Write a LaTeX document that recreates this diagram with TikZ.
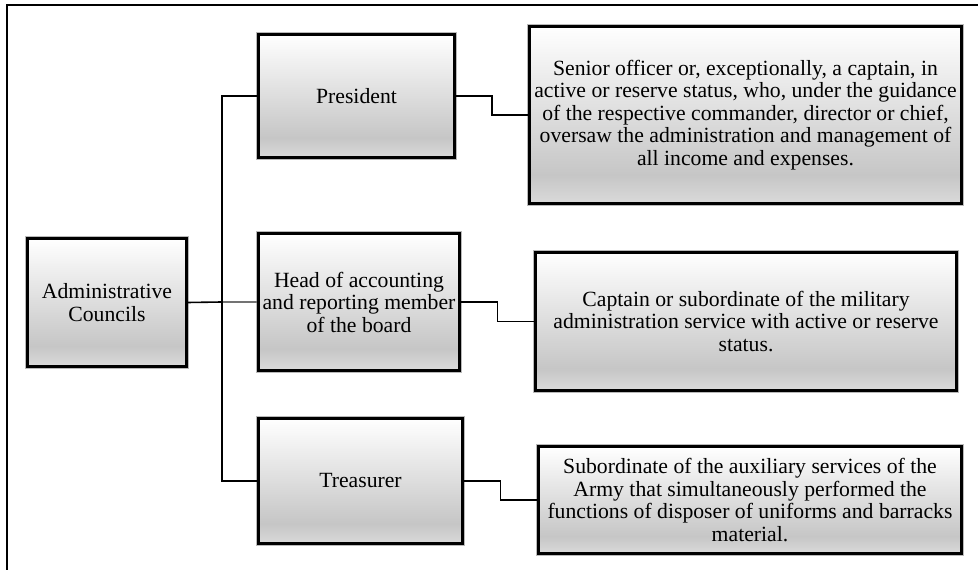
\documentclass[tikz,border=0pt]{standalone}
\usepackage{fontspec}
\setmainfont{Liberation Serif}
\usetikzlibrary{calc}

\definecolor{panelbottom}{HTML}{DADADA}
\definecolor{paneldark}{HTML}{C6C6C6}
\pgfdeclareverticalshading{panelfill}{100bp}{%
  color(0bp)=(panelbottom); color(25bp)=(panelbottom);
  color(33bp)=(paneldark); color(75bp)=(white); color(100bp)=(white)}

\begin{document}
\begin{tikzpicture}[x=1pt,y=1pt,
  panel/.style={rectangle, draw=black, line width=2.8pt,
    preaction={draw=gray!55, line width=4.2pt},
    shading=panelfill, align=center, inner sep=0pt,
    font=\fontsize{21.7}{22.5}\selectfont},
  link/.style={draw=black, line width=1.6pt},
  faint/.style={draw=black!55, line width=1.2pt}]

\useasboundingbox (0,0) rectangle (978,570);

% frame along the top and left edges
\draw[line width=2.6pt] (978,565) -- (7,565) -- (7,0);

% boxes
\node[panel, minimum width=159pt, minimum height=128pt] (admin) at (107,267.5)
  {Administrative\\Councils};
\node[panel, minimum width=196pt, minimum height=123pt] (pres) at (356.5,474)
  {President};
\node[panel, minimum width=201pt, minimum height=137pt] (head) at (359,268)
  {Head of accounting\\and reporting member\\of the board};
\node[panel, minimum width=204pt, minimum height=125pt] (treas) at (360.5,89)
  {Treasurer};
\node[panel, minimum width=432pt, minimum height=177pt] (senior) at (745.5,455)
  {Senior officer or, exceptionally, a captain, in\\
   active or reserve status, who, under the guidance\\
   of the respective commander, director or chief,\\
   oversaw the administration and management of\\
   all income and expenses.};
\node[panel, minimum width=421pt, minimum height=138pt] (capt) at (746,248.5)
  {Captain or subordinate of the military\\
   administration service with active or reserve\\
   status.};
\node[panel, minimum width=423pt, minimum height=107pt] (sub) at (750,70)
  {Subordinate of the auxiliary services of the\\
   Army that simultaneously performed the\\
   functions of disposer of uniforms and barracks\\
   material.};

% branching connectors
\coordinate (bus) at (222,268);
\draw[link] (admin.east) -- (bus);
\draw[faint] (bus) -- (head.west);
\draw[link] (pres.west) -| (bus) |- (treas.west);

% stepped connectors to the descriptions
\draw[link] (pres.east) -| ($(pres.east)!.5!(senior.west)$) |- (senior.west);
\draw[link] (head.east) -| ($(head.east)!.5!(capt.west)$) |- (capt.west);
\draw[link] (treas.east) -| ($(treas.east)!.5!(sub.west)$) |- (sub.west);
\end{tikzpicture}
\end{document}
